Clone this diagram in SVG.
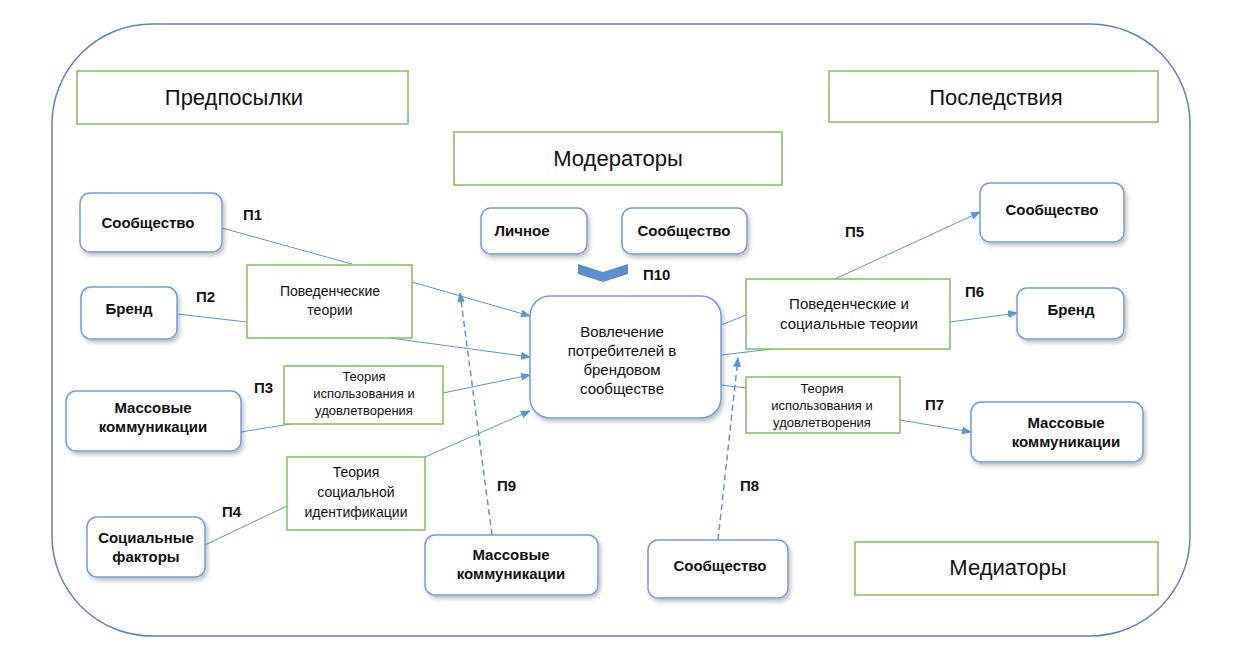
<svg xmlns="http://www.w3.org/2000/svg" width="1235" height="657" viewBox="0 0 1235 657">
<style>
text{font-family:"Liberation Sans",Arial,sans-serif;fill:#111}
.g{fill:#fff;stroke:#7cc05a;stroke-width:1.5}
.n{fill:#fff;stroke:#6f9fd6;stroke-width:1.5;filter:url(#sh)}
.b{font-weight:bold;font-size:15px}
.t{font-size:14px}
.h{font-size:22px}
.l{stroke:#5b95d6;stroke-width:1;fill:none}
.d{stroke:#5b95d6;stroke-width:1.5;fill:none;stroke-dasharray:6 4}
.a{marker-end:url(#ar)}
</style>
<defs>
<marker id="ar" markerWidth="10" markerHeight="8" refX="9" refY="4" orient="auto" markerUnits="userSpaceOnUse"><path d="M0,0L10,4L0,8z" fill="#5b95d6"/></marker>
<filter id="sh" x="-10%" y="-10%" width="130%" height="130%"><feDropShadow dx="2" dy="3" stdDeviation="2" flood-color="#000" flood-opacity="0.25"/></filter>
</defs>
<rect width="1235" height="657" fill="#fff"/>
<rect x="52" y="24" width="1138" height="612" rx="100" fill="none" stroke="#5a84b8" stroke-width="1.5"/>
<g id="conn">
<path class="l" d="M222,228L352,264"/><path class="l a" d="M412,282L530,316"/>
<path class="l" d="M177,314L247,322"/><path class="l a" d="M390,338L530,357"/>
<path class="l" d="M241,432L290,424"/><path class="l a" d="M443,393L530,375"/>
<path class="l" d="M205,545L287,506"/><path class="l a" d="M425,457L530,411"/>
<path class="d a" d="M492,535L460,293"/>
<path class="d a" d="M718,540L738,358"/>
<path class="l" d="M721,325L746,315"/><path class="l a" d="M835,279L980,212"/>
<path class="l a" d="M950,322L1017,313"/>
<path class="l" d="M721,355L772,349"/>
<path class="l" d="M721,385L746,388"/>
<path class="l a" d="M900,420L971,432"/>
</g>
<g id="predposylki"><rect class="g" x="77" y="71" width="331" height="53"/><text class="h" x="234" y="105" text-anchor="middle">Предпосылки</text></g>
<g id="posledstviya"><rect class="g" x="829" y="71" width="329" height="51"/><text class="h" x="996" y="105" text-anchor="middle">Последствия</text></g>
<g id="moderatory"><rect class="g" x="454" y="132" width="328" height="53"/><text class="h" x="618" y="166" text-anchor="middle">Модераторы</text></g>
<g id="mediatory"><rect class="g" x="855" y="542" width="303" height="53"/><text class="h" x="1008" y="575" text-anchor="middle">Медиаторы</text></g>
<g id="soob-l"><rect class="n" x="80" y="193" width="142" height="59" rx="10"/><text class="b" x="148" y="228" text-anchor="middle">Сообщество</text></g>
<g id="brend-l"><rect class="n" x="81" y="287" width="96" height="52" rx="10"/><text class="b" x="129" y="314" text-anchor="middle">Бренд</text></g>
<g id="mass-l"><rect class="n" x="66" y="391" width="175" height="60" rx="10"/><text class="b" x="153" y="413" text-anchor="middle">Массовые</text><text class="b" x="153" y="432" text-anchor="middle">коммуникации</text></g>
<g id="soc"><rect class="n" x="87" y="517" width="118" height="60" rx="10"/><text class="b" x="146" y="543" text-anchor="middle">Социальные</text><text class="b" x="146" y="562" text-anchor="middle">факторы</text></g>
<g id="lichnoe"><rect class="n" x="481" y="208" width="106" height="46" rx="10"/><text class="b" x="522" y="236" text-anchor="middle">Личное</text></g>
<g id="soob-m"><rect class="n" x="622" y="208" width="125" height="46" rx="10"/><text class="b" x="684" y="236" text-anchor="middle">Сообщество</text></g>
<g id="center"><rect class="n" x="530" y="296" width="191" height="122" rx="20"/><text class="t" x="622" y="337" text-anchor="middle" style="font-size:15px">Вовлечение</text><text x="622" y="356" text-anchor="middle" style="font-size:15px">потребителей в</text><text x="622" y="375" text-anchor="middle" style="font-size:15px">брендовом</text><text x="622" y="394" text-anchor="middle" style="font-size:15px">сообществе</text></g>
<g id="soob-r"><rect class="n" x="980" y="183" width="144" height="59" rx="10"/><text class="b" x="1052" y="215" text-anchor="middle">Сообщество</text></g>
<g id="brend-r"><rect class="n" x="1017" y="288" width="107" height="51" rx="10"/><text class="b" x="1071" y="315" text-anchor="middle">Бренд</text></g>
<g id="mass-r"><rect class="n" x="971" y="402" width="172" height="60" rx="10"/><text class="b" x="1066" y="428" text-anchor="middle">Массовые</text><text class="b" x="1066" y="447" text-anchor="middle">коммуникации</text></g>
<g id="mass-b"><rect class="n" x="425" y="535" width="173" height="60" rx="10"/><text class="b" x="511" y="560" text-anchor="middle">Массовые</text><text class="b" x="511" y="579" text-anchor="middle">коммуникации</text></g>
<g id="soob-b"><rect class="n" x="648" y="540" width="140" height="58" rx="10"/><text class="b" x="720" y="571" text-anchor="middle">Сообщество</text></g>
<g id="th1"><rect class="g" x="247" y="265" width="165" height="73"/><text class="t" x="330" y="296" text-anchor="middle">Поведенческие</text><text class="t" x="330" y="315" text-anchor="middle">теории</text></g>
<g id="th2"><rect class="g" x="284" y="366" width="159" height="58"/><text x="364" y="381" text-anchor="middle" style="font-size:13px">Теория</text><text x="364" y="398" text-anchor="middle" style="font-size:13px">использования и</text><text x="364" y="415" text-anchor="middle" style="font-size:13px">удовлетворения</text></g>
<g id="th3"><rect class="g" x="287" y="457" width="138" height="73"/><text class="t" x="356" y="477" text-anchor="middle">Теория</text><text class="t" x="356" y="497" text-anchor="middle">социальной</text><text class="t" x="356" y="517" text-anchor="middle">идентификации</text></g>
<g id="th4"><rect class="g" x="746" y="279" width="204" height="70"/><text x="849" y="309" text-anchor="middle" style="font-size:15px">Поведенческие и</text><text x="849" y="329" text-anchor="middle" style="font-size:15px">социальные теории</text></g>
<g id="th5"><rect class="g" x="746" y="377" width="154" height="56"/><text x="822" y="393" text-anchor="middle" style="font-size:13px">Теория</text><text x="822" y="410" text-anchor="middle" style="font-size:13px">использования и</text><text x="822" y="427" text-anchor="middle" style="font-size:13px">удовлетворения</text></g>
<path d="M578,264L603,272L628,264L628,274L603,282L578,274z" fill="#5b8fd0"/>
<g class="b">
<text class="b" x="243" y="220">П1</text><text class="b" x="196" y="302">П2</text><text class="b" x="254" y="393">П3</text><text class="b" x="222" y="517">П4</text>
<text class="b" x="845" y="237">П5</text><text class="b" x="965" y="297">П6</text><text class="b" x="925" y="410">П7</text><text class="b" x="740" y="491">П8</text><text class="b" x="497" y="491">П9</text><text class="b" x="643" y="280">П10</text>
</g>
</svg>
